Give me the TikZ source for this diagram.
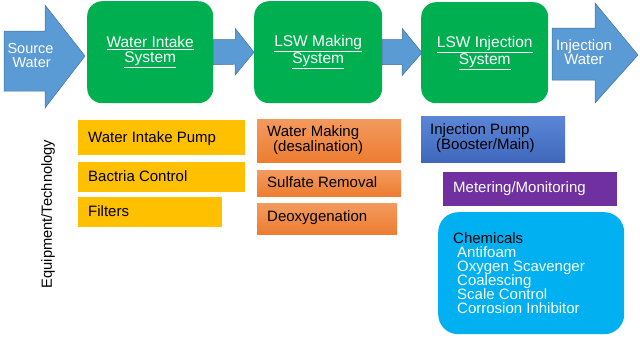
\documentclass[tikz,border=0pt]{standalone}
\usepackage{fontspec}
\setmainfont{Liberation Sans}
\definecolor{arrowblue}{HTML}{5B9BD5}
\definecolor{arrowedge}{HTML}{41719C}
\definecolor{sysgreen}{HTML}{00B050}
\definecolor{tagyellow}{HTML}{FFC000}
\definecolor{tagorange}{HTML}{ED7D31}
\definecolor{tagorangelt}{HTML}{F39A5E}
\definecolor{tagblue}{HTML}{3F68BC}
\definecolor{tagbluelt}{HTML}{5B86D6}
\definecolor{tagpurple}{HTML}{7030A0}
\definecolor{tagcyan}{HTML}{00B0F0}
\begin{document}
\begin{tikzpicture}[x=1pt,y=-1pt,
  flowarrow/.style={fill=arrowblue, draw=arrowedge, line width=0.5pt},
  sysbox/.style={fill=sysgreen, rounded corners=15pt, anchor=north west, inner sep=0pt},
  systext/.style={text=white, align=center, font=\fontsize{15.5}{15}\selectfont, inner sep=0pt},
  arrowtext/.style={text=white, inner sep=0pt},
  tagbox/.style={anchor=north west, inner sep=0pt},
  tagtext/.style={anchor=west, align=left, inner sep=0pt, font=\fontsize{15}{13}\selectfont},
  orangeshade/.style={top color=tagorangelt, bottom color=tagorange},
  blueshade/.style={top color=tagbluelt, bottom color=tagblue},
]
\useasboundingbox (0,0) rectangle (640,338);
\fill[white] (0,0) rectangle (640,338);

% flow arrows
\draw[flowarrow] (4,31) -- (45,31) -- (45,5) -- (85,56) -- (45,108) -- (45,91) -- (4,91) -- cycle;
\node[arrowtext, align=left, font=\fontsize{14.5}{14}\selectfont] (src) at (30.5,56) {Source\\\hspace{5pt}Water};

% system boxes
\node[sysbox, minimum width=126pt, minimum height=102pt] (wis) at (87,1) {};
\node[sysbox, minimum width=128pt, minimum height=102pt] (lsm) at (254,1) {};
\node[sysbox, minimum width=127pt, minimum height=101pt] (lsi) at (421,2) {};

\node[systext] (wist) at ([yshift=0pt]wis.center) {\underline{Water Intake}\\\underline{System}};
\node[systext] (lsmt) at ([yshift=0pt]lsm.center) {\underline{LSW Making}\\\underline{System}};
\node[systext] (lsit) at ([yshift=0pt]lsi.center) {\underline{LSW Injection}\\\underline{System}};

% connector arrows between systems
\draw[flowarrow] ([yshift=12.5pt]wis.east) -- ++(22,0) -- ++(0,-11) -- (lsm.west)
   -- ++(-19,23) -- ++(0,-11) -- ([yshift=-12.5pt]wis.east) -- cycle;
\draw[flowarrow] ([yshift=12.5pt]lsm.east) -- ++(20,0) -- ++(0,-11) -- ([xshift=1pt]lsi.west)
   -- ++(-20,23) -- ++(0,-11) -- ([yshift=-12.5pt]lsm.east) -- cycle;

% output arrow
\draw[flowarrow] (552,28) -- (595,28) -- (595,3) -- (638,55) -- (595,103) -- (595,80) -- (552,80) -- cycle;
\node[arrowtext, align=center, font=\fontsize{15}{14}\selectfont] (inw) at (584,52) {Injection\\Water};

% side label
\node[rotate=90, font=\fontsize{14.7}{14}\selectfont, inner sep=0pt] (eq) at (48,214) {Equipment/Technology};

% water intake tags
\node[tagbox, fill=tagyellow, minimum width=167pt, minimum height=35pt] (wip) at (78,120) {};
\node[tagtext] (wipt) at ([xshift=10pt,yshift=-0.5pt]wip.west) {Water Intake Pump};
\node[tagbox, fill=tagyellow, minimum width=167pt, minimum height=30pt] (bac) at (78,162) {};
\node[tagtext] (bact) at ([xshift=10pt,yshift=1pt]bac.west) {Bactria Control};
\node[tagbox, fill=tagyellow, minimum width=144pt, minimum height=30pt] (fil) at (78,197) {};
\node[tagtext] (filt) at ([xshift=10pt,yshift=1pt]fil.west) {Filters};

% LSW making tags
\node[tagbox, orangeshade, minimum width=144pt, minimum height=43pt] (wm) at (257,119) {};
\node[tagtext] (wmt) at ([xshift=10pt,yshift=0.5pt]wm.west) {Water Making\\\hspace{6pt}(desalination)};
\node[tagbox, orangeshade, minimum width=144pt, minimum height=26pt] (sul) at (257,170) {};
\node[tagtext] (sult) at ([xshift=10pt,yshift=1.5pt]sul.west) {Sulfate Removal};
\node[tagbox, orangeshade, minimum width=140pt, minimum height=31pt] (deo) at (257,203) {};
\node[tagtext] (deot) at ([xshift=10pt,yshift=1.5pt]deo.west) {Deoxygenation};

% LSW injection tags
\node[tagbox, blueshade, minimum width=144pt, minimum height=46pt] (inj) at (421,116) {};
\node[tagtext] (injt) at ([xshift=9pt,yshift=1pt]inj.west) {Injection Pump\\\hspace{6pt}(Booster/Main)};
\node[tagbox, fill=tagpurple, minimum width=174pt, minimum height=34pt] (met) at (443,172) {};
\node[tagtext, text=white] (mett) at ([xshift=10pt,yshift=1pt]met.west) {Metering/Monitoring};
\node[tagbox, fill=tagcyan, rounded corners=20pt, minimum width=186pt, minimum height=122pt] (chem) at (438,212) {};
\node[tagtext, font=\fontsize{15}{14}\selectfont] (chemt) at ([xshift=15pt]chem.west)
  {Chemicals\\\textcolor{white}{\hspace{4pt}Antifoam}\\\textcolor{white}{\hspace{4pt}Oxygen Scavenger}\\\textcolor{white}{\hspace{4pt}Coalescing}\\\textcolor{white}{\hspace{4pt}Scale Control}\\\textcolor{white}{\hspace{4pt}Corrosion Inhibitor}};
\end{tikzpicture}
\end{document}
